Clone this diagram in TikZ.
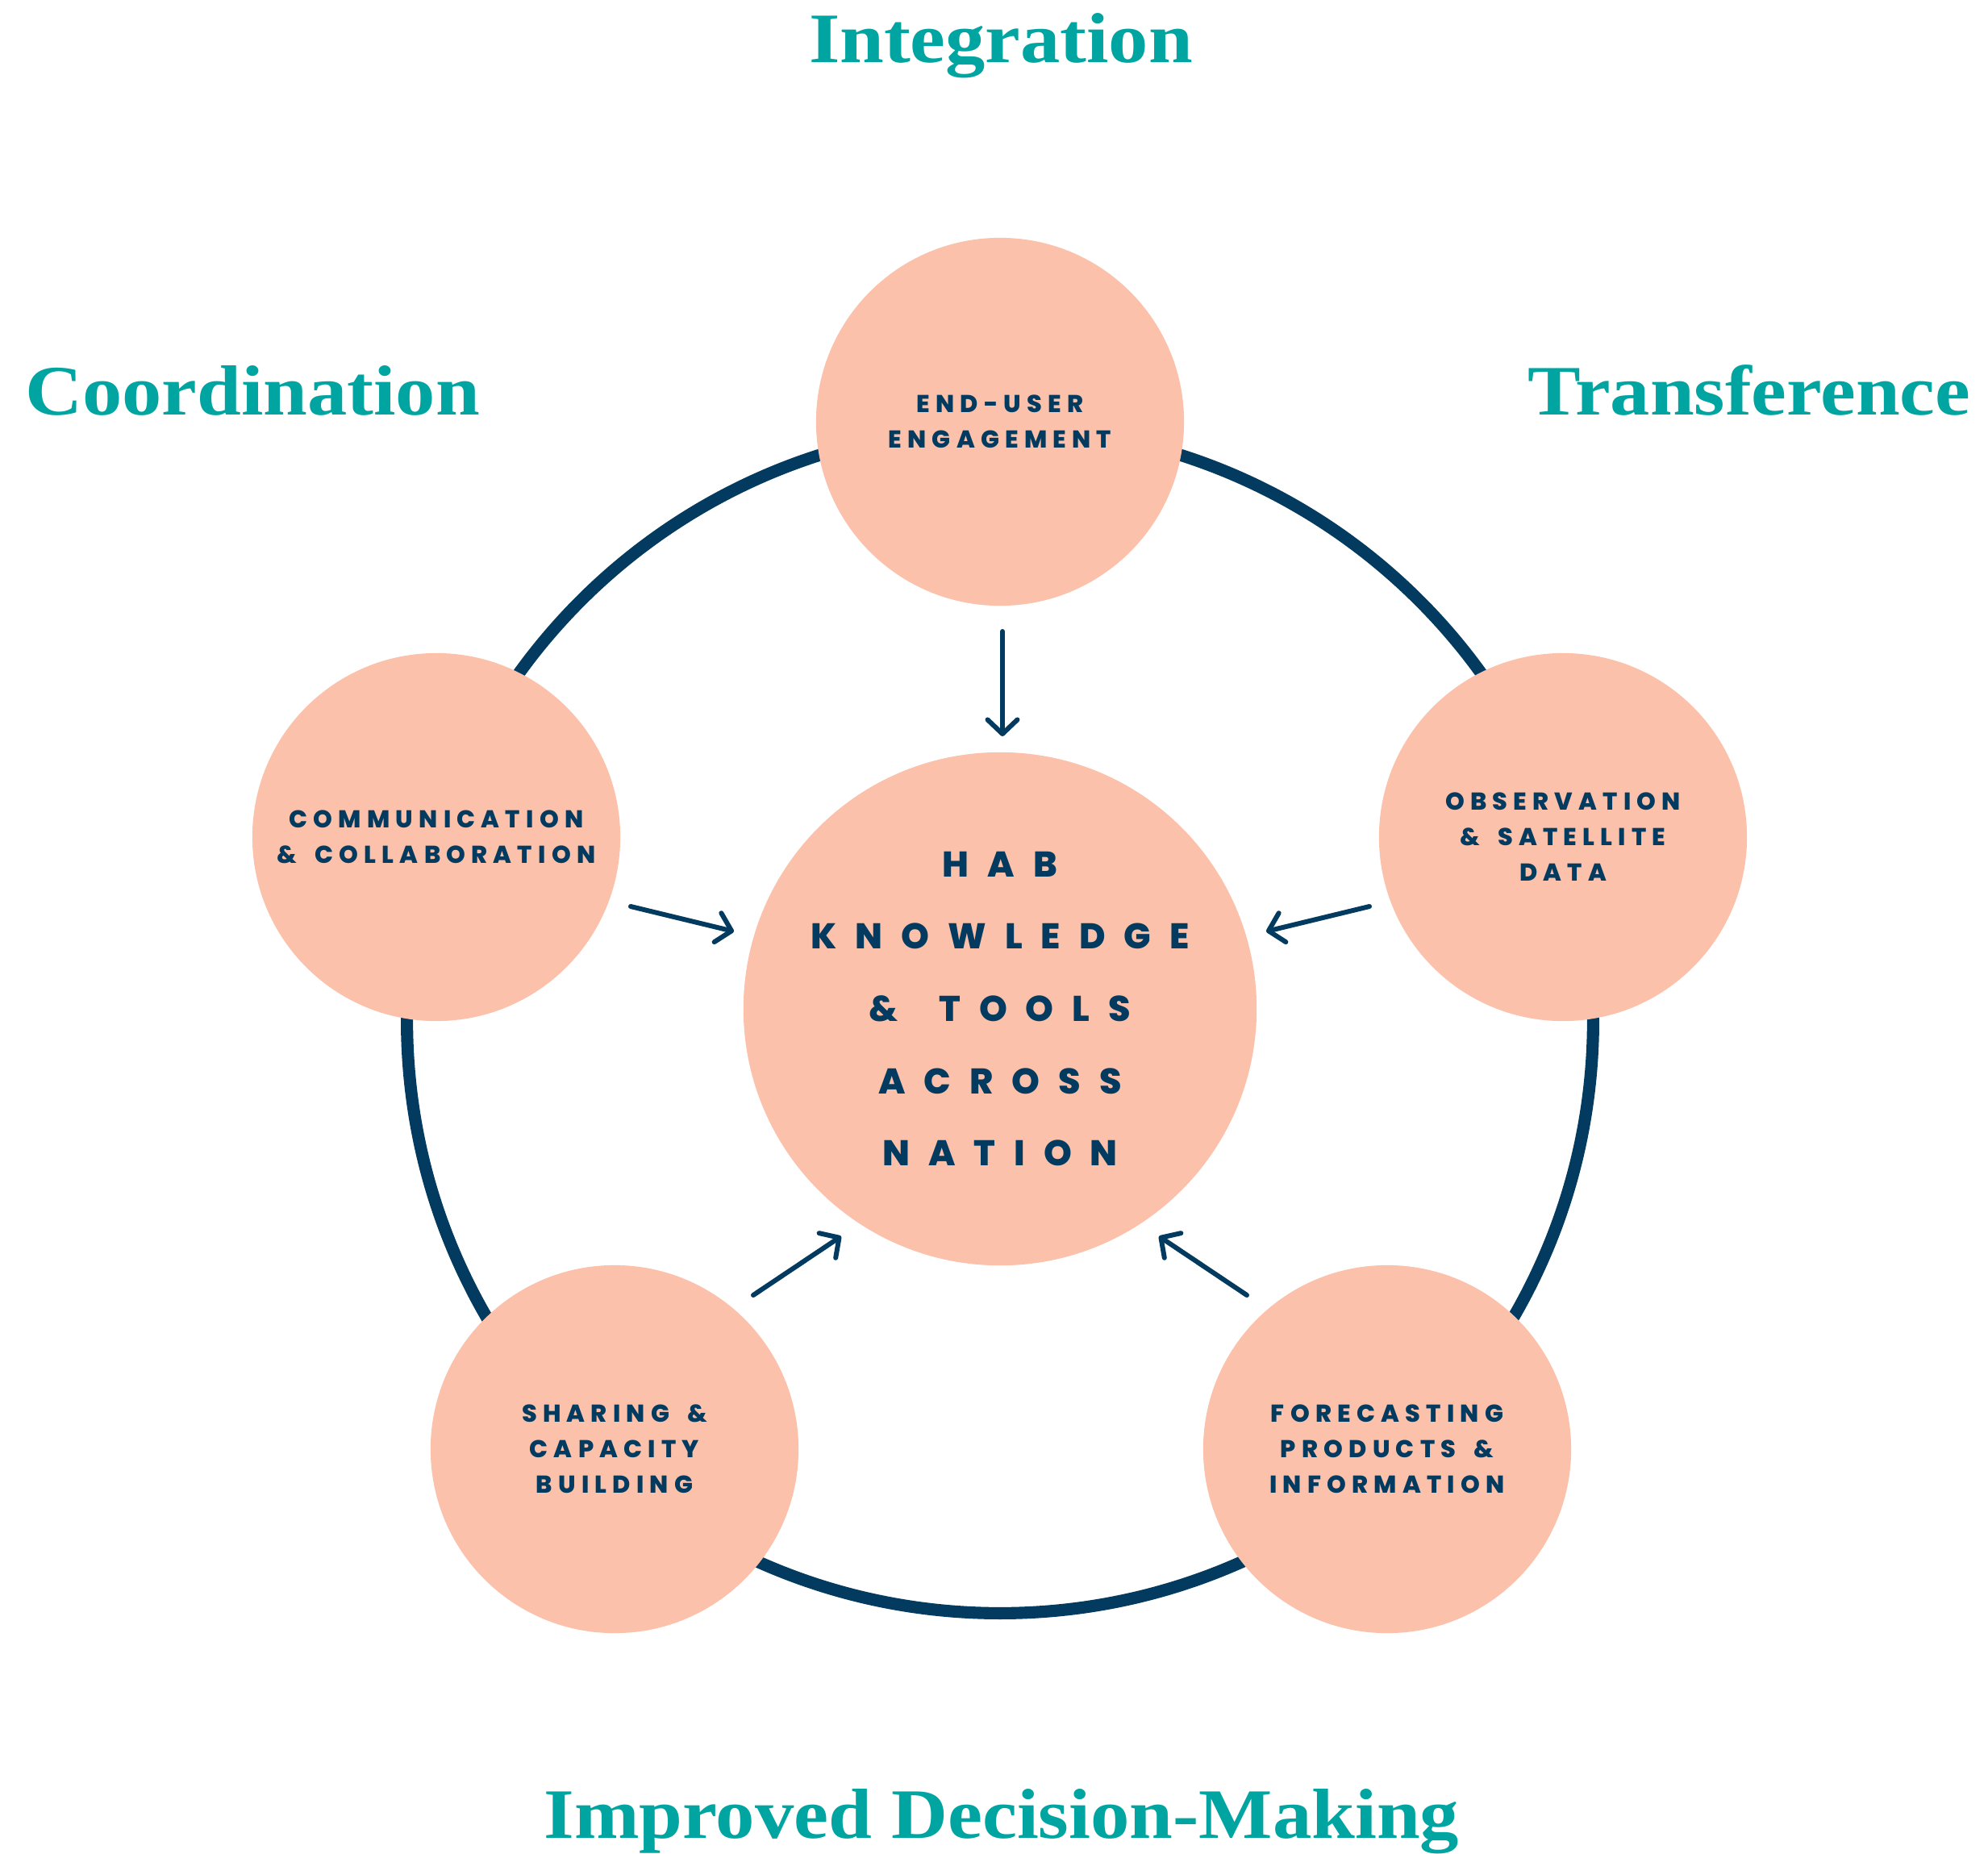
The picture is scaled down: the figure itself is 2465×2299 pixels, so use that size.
\documentclass[tikz,border=0pt]{standalone}
\usepackage{fontspec}
\usepackage{graphicx}
\usetikzlibrary{arrows.meta}
\newfontfamily\headfont{Liberation Serif}
\newfontfamily\labfont{Poppins}[LetterSpace=24, WordSpace=1.7, BoldFont={Poppins ExtraBold}]
\newfontfamily\habfont{Poppins}[LetterSpace=52, WordSpace=1.6, BoldFont={Poppins ExtraBold}]
\definecolor{hteal}{HTML}{00A4A0}
\definecolor{hnavy}{HTML}{023B5F}
\definecolor{hpeach}{HTML}{FBC1AA}
\tikzset{
  title/.style={text=hteal, font=\headfont\bfseries\fontsize{25}{30}\selectfont, anchor=base, inner sep=0pt},
  bubble/.style={circle, fill=hpeach, minimum size=4.56cm, inner sep=0pt, align=center, text=hnavy,
    font=\labfont\bfseries\fontsize{8.6}{12.5}\selectfont},
  hub/.style={circle, fill=hpeach, minimum size=6.36cm, inner sep=0pt, align=center, text=hnavy,
    font=\habfont\bfseries\fontsize{12.6}{25.5}\selectfont},
  arr/.style={draw=hnavy, line width=1.7pt, line cap=round,
    -{Straight Barb[length=5pt, width=10.5pt, line cap=round, line join=round]}},
  ringline/.style={draw=hnavy, line width=4.3pt}
}
\begin{document}
\begin{tikzpicture}[x=0.01cm, y=-0.01cm]
\useasboundingbox[fill=white] (0,0) rectangle (2465,2299);
% ring
\draw[ringline] (1240,1265) circle[radius=7.35cm];
% circles
\node[bubble] (eu) at (1240,523) {END-USER\\ENGAGEMENT};
\node[bubble] (cc) at (541,1038) {COMMUNICATION\\\& COLLABORATION};
\node[bubble] (os) at (1938,1038) {OBSERVATION\\\& SATELLITE\\DATA};
\node[bubble] (sc) at (762,1797) {SHARING \&\\CAPACITY\\BUILDING};
\node[bubble] (fp) at (1720,1797) {FORECASTING\\PRODUCTS \&\\INFORMATION};
\node[hub] (hab) at (1240,1251) {HAB\\KNOWLEDGE\\\& TOOLS\\ACROSS\\NATION};
% arrow end points
\coordinate (a1s) at (1243,783);  \coordinate (a1e) at (1243,913);
\coordinate (a2s) at (782,1124);  \coordinate (a2e) at (910,1155);
\coordinate (a3s) at (1698,1124); \coordinate (a3e) at (1570,1155);
\coordinate (a4s) at (934,1606);  \coordinate (a4e) at (1043,1533);
\coordinate (a5s) at (1546,1606); \coordinate (a5e) at (1437,1533);
\draw[arr] (a1s) -- (a1e);
\draw[arr] (a2s) -- (a2e);
\draw[arr] (a3s) -- (a3e);
\draw[arr] (a4s) -- (a4e);
\draw[arr] (a5s) -- (a5e);
% titles
\node[title] (t1) at (1241,77) {\scalebox{1.12}[1]{Integration}};
\node[title] (t2) at (313,514) {\scalebox{1.12}[1]{Coordination}};
\node[title] (t3) at (2169,514) {\scalebox{1.12}[1]{Transference}};
\node[title] (t4) at (1242,2279) {\scalebox{1.10}[1]{Improved Decision-Making}};
\end{tikzpicture}
\end{document}
